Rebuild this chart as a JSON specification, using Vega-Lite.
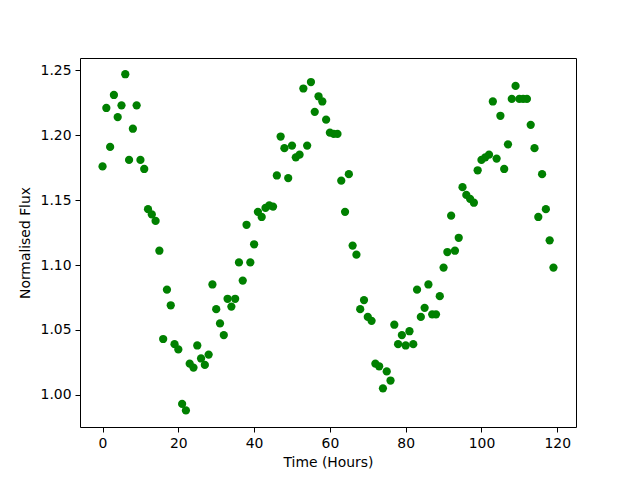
{
  "$schema": "https://vega.github.io/schema/vega-lite/v6.json",
  "width": 496,
  "height": 369,
  "autosize": {"type": "none"},
  "padding": {"left": 80, "top": 58, "right": 64, "bottom": 53},
  "background": "white",
  "config": {
    "view": {"stroke": "black", "strokeWidth": 1},
    "axis": {
      "grid": false,
      "domain": false,
      "tickColor": "black",
      "tickSize": 5,
      "labelFont": "DejaVu Sans",
      "labelFontSize": 13.9,
      "labelColor": "black",
      "labelPadding": 4,
      "titleFont": "DejaVu Sans",
      "titleFontSize": 13.9,
      "titleFontWeight": "normal",
      "titleColor": "black"
    }
  },
  "data": {
    "values": [
      {"t": 0, "f": 1.176}, {"t": 1, "f": 1.221}, {"t": 2, "f": 1.191}, {"t": 3, "f": 1.231},
      {"t": 4, "f": 1.214}, {"t": 5, "f": 1.223}, {"t": 6, "f": 1.247}, {"t": 7, "f": 1.181},
      {"t": 8, "f": 1.205}, {"t": 9, "f": 1.223}, {"t": 10, "f": 1.181}, {"t": 11, "f": 1.174},
      {"t": 12, "f": 1.143}, {"t": 13, "f": 1.139}, {"t": 14, "f": 1.134}, {"t": 15, "f": 1.111},
      {"t": 16, "f": 1.043}, {"t": 17, "f": 1.081}, {"t": 18, "f": 1.069}, {"t": 19, "f": 1.039},
      {"t": 20, "f": 1.035}, {"t": 21, "f": 0.993}, {"t": 22, "f": 0.988}, {"t": 23, "f": 1.024},
      {"t": 24, "f": 1.021}, {"t": 25, "f": 1.038}, {"t": 26, "f": 1.028}, {"t": 27, "f": 1.023},
      {"t": 28, "f": 1.031}, {"t": 29, "f": 1.085}, {"t": 30, "f": 1.066}, {"t": 31, "f": 1.055},
      {"t": 32, "f": 1.046}, {"t": 33, "f": 1.074}, {"t": 34, "f": 1.068}, {"t": 35, "f": 1.074},
      {"t": 36, "f": 1.102}, {"t": 37, "f": 1.088}, {"t": 38, "f": 1.131}, {"t": 39, "f": 1.102},
      {"t": 40, "f": 1.116}, {"t": 41, "f": 1.141}, {"t": 42, "f": 1.137}, {"t": 43, "f": 1.144},
      {"t": 44, "f": 1.146}, {"t": 45, "f": 1.145}, {"t": 46, "f": 1.169}, {"t": 47, "f": 1.199},
      {"t": 48, "f": 1.190}, {"t": 49, "f": 1.167}, {"t": 50, "f": 1.192}, {"t": 51, "f": 1.183},
      {"t": 52, "f": 1.185}, {"t": 53, "f": 1.236}, {"t": 54, "f": 1.192}, {"t": 55, "f": 1.241},
      {"t": 56, "f": 1.218}, {"t": 57, "f": 1.230}, {"t": 58, "f": 1.226}, {"t": 59, "f": 1.212},
      {"t": 60, "f": 1.202}, {"t": 61, "f": 1.201}, {"t": 62, "f": 1.201}, {"t": 63, "f": 1.165},
      {"t": 64, "f": 1.141}, {"t": 65, "f": 1.170}, {"t": 66, "f": 1.115}, {"t": 67, "f": 1.108},
      {"t": 68, "f": 1.066}, {"t": 69, "f": 1.073}, {"t": 70, "f": 1.060}, {"t": 71, "f": 1.057},
      {"t": 72, "f": 1.024}, {"t": 73, "f": 1.022}, {"t": 74, "f": 1.005}, {"t": 75, "f": 1.018},
      {"t": 76, "f": 1.011}, {"t": 77, "f": 1.054}, {"t": 78, "f": 1.039}, {"t": 79, "f": 1.046},
      {"t": 80, "f": 1.038}, {"t": 81, "f": 1.049}, {"t": 82, "f": 1.039}, {"t": 83, "f": 1.081},
      {"t": 84, "f": 1.060}, {"t": 85, "f": 1.067}, {"t": 86, "f": 1.085}, {"t": 87, "f": 1.062},
      {"t": 88, "f": 1.062}, {"t": 89, "f": 1.076}, {"t": 90, "f": 1.098}, {"t": 91, "f": 1.110},
      {"t": 92, "f": 1.138}, {"t": 93, "f": 1.111}, {"t": 94, "f": 1.121}, {"t": 95, "f": 1.160},
      {"t": 96, "f": 1.154}, {"t": 97, "f": 1.151}, {"t": 98, "f": 1.148}, {"t": 99, "f": 1.173},
      {"t": 100, "f": 1.181}, {"t": 101, "f": 1.183}, {"t": 102, "f": 1.185}, {"t": 103, "f": 1.226},
      {"t": 104, "f": 1.182}, {"t": 105, "f": 1.215}, {"t": 106, "f": 1.174}, {"t": 107, "f": 1.193},
      {"t": 108, "f": 1.228}, {"t": 109, "f": 1.238}, {"t": 110, "f": 1.228}, {"t": 111, "f": 1.228},
      {"t": 112, "f": 1.228}, {"t": 113, "f": 1.208}, {"t": 114, "f": 1.190}, {"t": 115, "f": 1.137},
      {"t": 116, "f": 1.170}, {"t": 117, "f": 1.143}, {"t": 118, "f": 1.119}, {"t": 119, "f": 1.098}
    ]
  },
  "mark": {"type": "circle", "color": "#008000", "opacity": 1, "size": 68},
  "encoding": {
    "x": {
      "field": "t",
      "type": "quantitative",
      "scale": {"domain": [-5.95, 124.95], "nice": false, "zero": false},
      "axis": {"values": [0, 20, 40, 60, 80, 100, 120], "title": "Time (Hours)", "titlePadding": 6}
    },
    "y": {
      "field": "f",
      "type": "quantitative",
      "scale": {"domain": [0.9752, 1.2595], "nice": false, "zero": false},
      "axis": {"values": [1.0, 1.05, 1.1, 1.15, 1.2, 1.25], "format": ".2f", "title": "Normalised Flux", "titlePadding": 8}
    }
  }
}
